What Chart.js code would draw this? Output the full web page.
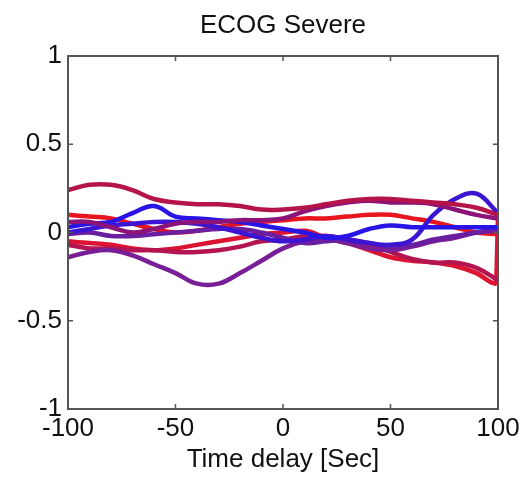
<!DOCTYPE html>
<html>
<head>
<meta charset="utf-8">
<script src="https://cdn.jsdelivr.net/npm/chart.js@4/dist/chart.umd.min.js"></script>
<style>
  html, body { margin: 0; padding: 0; background: #fff; }
  #wrap { width: 527px; height: 478px; }
</style>
</head>
<body>
<div id="wrap"><canvas id="ecog" width="527" height="478"></canvas></div>
<script>
// time delay samples (sec)
const delays = [-100, -90, -80, -70, -60, -50, -40, -30, -20, -10, 0, 10, 20, 30, 40, 50, 60, 70, 80, 90, 100];
const xTicks = [-100, -50, 0, 50, 100];
const yTicks = [-1, -0.5, 0, 0.5, 1];

// one trace per channel
const trA = [0.24, 0.27, 0.27, 0.24, 0.19, 0.17, 0.16, 0.16, 0.15, 0.13, 0.13, 0.14, 0.16, 0.18, 0.19, 0.19, 0.18, 0.17, 0.16, 0.14, 0.10];
const trB = [0.10, 0.09, 0.08, 0.05, 0.02, 0.00, 0.01, 0.03, 0.05, 0.06, 0.07, 0.08, 0.08, 0.09, 0.10, 0.10, 0.08, 0.06, 0.03, 0.00, -0.01];
const trC = [0.03, 0.05, 0.06, 0.11, 0.15, 0.09, 0.08, 0.07, 0.06, 0.04, 0.02, 0.00, -0.03, -0.02, 0.02, 0.04, 0.03, 0.03, 0.03, 0.03, 0.03];
const trD = [0.00, 0.02, 0.04, 0.05, 0.06, 0.06, 0.05, 0.03, 0.00, -0.03, -0.05, -0.04, -0.02, -0.04, -0.06, -0.07, -0.04, 0.10, 0.19, 0.22, 0.11];
const trE = [-0.01, 0.00, -0.02, -0.02, -0.01, 0.00, 0.01, 0.02, 0.02, 0.00, -0.03, -0.06, -0.05, -0.04, -0.06, -0.08, -0.07, -0.04, -0.02, 0.00, 0.01];
const trF = [-0.05, -0.06, -0.07, -0.09, -0.10, -0.09, -0.07, -0.05, -0.03, -0.01, 0.00, 0.01, -0.03, -0.06, -0.10, -0.14, -0.16, -0.17, -0.19, -0.23, 0.08];
const trG = [-0.07, -0.09, -0.09, -0.10, -0.10, -0.11, -0.11, -0.10, -0.08, -0.05, -0.04, -0.02, -0.02, -0.04, -0.07, -0.11, -0.15, -0.17, -0.17, -0.20, -0.27];
const trH = [-0.14, -0.11, -0.10, -0.13, -0.18, -0.23, -0.29, -0.29, -0.23, -0.16, -0.09, -0.05, -0.04, -0.06, -0.09, -0.10, -0.08, -0.05, -0.03, 0.00, 0.02];
const trI = [0.06, 0.06, 0.03, 0.00, 0.02, 0.05, 0.06, 0.06, 0.07, 0.07, 0.08, 0.12, 0.15, 0.17, 0.18, 0.17, 0.17, 0.16, 0.13, 0.10, 0.08];

// trace F drops to its minimum just before the edge
const tailF = { x: 99, y: -0.29 };

const traces = [
  { data: trA, color: '#b4144a' },
  { data: trI, color: '#8c1478' },
  { data: trC, color: '#2814e6' },
  { data: trD, color: '#3c14d2' },
  { data: trE, color: '#6a1ea0' },
  { data: trH, color: '#781e96' },
  { data: trG, color: '#b41450' },
  { data: trF, color: '#dc1432', tail: tailF },
  { data: trB, color: '#e8141e' }
];

const FONT = 'Liberation Sans, Arial, Helvetica, sans-serif';

function toPoints(vals, tail) {
  const pts = delays.map((d, i) => ({ x: d, y: vals[i] }));
  if (tail) pts.splice(pts.length - 1, 0, tail);
  return pts;
}

// box frame, inward ticks and the title, matlab style
const frame = {
  id: 'frame',
  afterDraw(chart) {
    const { ctx, chartArea: a, scales } = chart;
    ctx.save();
    ctx.strokeStyle = '#555';
    ctx.lineWidth = 2;
    ctx.strokeRect(a.left, a.top, a.right - a.left, a.bottom - a.top);
    ctx.lineWidth = 1.5;
    ctx.beginPath();
    xTicks.forEach(v => {
      const px = scales.x.getPixelForValue(v);
      ctx.moveTo(px, a.bottom); ctx.lineTo(px, a.bottom - 5);
      ctx.moveTo(px, a.top); ctx.lineTo(px, a.top + 5);
    });
    yTicks.forEach(v => {
      const py = scales.y.getPixelForValue(v);
      ctx.moveTo(a.left, py); ctx.lineTo(a.left + 5, py);
      ctx.moveTo(a.right, py); ctx.lineTo(a.right - 5, py);
    });
    ctx.stroke();
    ctx.fillStyle = '#111';
    ctx.font = '26px ' + FONT;
    ctx.textAlign = 'center';
    ctx.textBaseline = 'middle';
    ctx.fillText('ECOG Severe', (a.left + a.right) / 2, 26);
    ctx.restore();
  }
};

new Chart(document.getElementById('ecog'), {
  type: 'line',
  data: {
    datasets: traces.map(t => ({
      data: toPoints(t.data, t.tail),
      borderColor: t.color,
      borderWidth: 4.5,
      pointRadius: 0,
      tension: 0.4,
      // the sharp drop at the edge would overshoot with plain bezier
      cubicInterpolationMode: t.tail ? 'monotone' : 'default',
      fill: false
    }))
  },
  options: {
    responsive: false,
    animation: false,
    layout: { padding: { top: 56, right: 29, left: 0, bottom: 0 } },
    plugins: {
      legend: { display: false },
      tooltip: { enabled: false },
      title: { display: false }
    },
    scales: {
      x: {
        type: 'linear',
        min: -100,
        max: 100,
        afterBuildTicks: s => { s.ticks = xTicks.map(v => ({ value: v })); },
        afterFit: s => { s.height = 69; },
        grid: { display: false, drawTicks: false },
        border: { display: false },
        ticks: { color: '#111', padding: 4, font: { family: FONT, size: 26 } },
        title: {
          display: true,
          text: 'Time delay [Sec]',
          color: '#111',
          padding: { top: 0, bottom: 3 },
          font: { family: FONT, size: 26 }
        }
      },
      y: {
        min: -1,
        max: 1,
        afterBuildTicks: s => { s.ticks = yTicks.map(v => ({ value: v })); },
        afterFit: s => { s.width = 68; },
        grid: { display: false, drawTicks: false },
        border: { display: false },
        ticks: {
          color: '#111',
          padding: 6,
          font: { family: FONT, size: 26 },
          callback: v => String(v)
        }
      }
    }
  },
  plugins: [frame]
});
</script>
</body>
</html>
